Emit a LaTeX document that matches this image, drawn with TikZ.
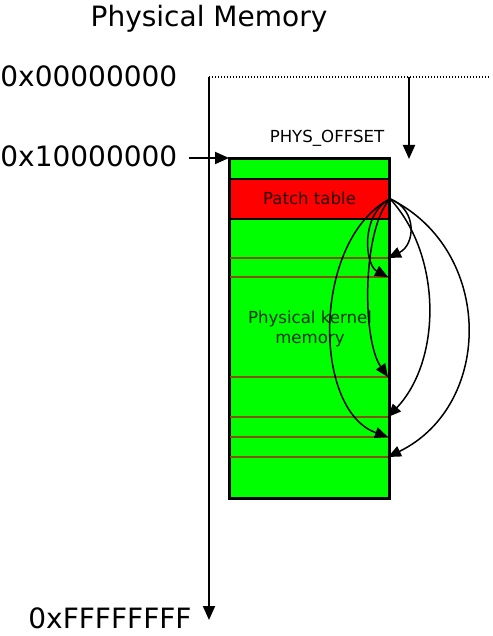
\documentclass[tikz,border=0pt]{standalone}
\usepackage{fontspec}
\setmainfont{DejaVu Sans}
\usetikzlibrary{arrows.meta}

\definecolor{memgreen}{RGB}{0,255,0}
\definecolor{slotbrown}{RGB}{125,85,0}

\tikzset{
  biglabel/.style={font=\fontsize{14}{16}\selectfont, inner sep=0pt, anchor=base},
  smalllabel/.style={font=\fontsize{8.3}{10.25}\selectfont, inner sep=0pt},
  axisline/.style={line width=1pt, -{Triangle[length=7pt,width=6pt]}},
  fixup/.style={line width=0.75pt, -{Triangle[length=6.5pt,width=5.5pt]}},
  membox/.style={draw, line width=1pt, inner sep=0pt, anchor=north west, minimum width=79.5pt},
}

\begin{document}
\begin{tikzpicture}[x=0.5pt, y=-0.5pt]
    \useasboundingbox (0,0) rectangle (492,636);

    % Address labels
    \node[biglabel] (title) at (209,27) {Physical Memory};
    \node[biglabel, anchor=base west] (lowaddr) at (0,87) {0x00000000};
    \node[biglabel, anchor=base west] (kaddr) at (0,167) {0x10000000};
    \node[biglabel, anchor=base west] (highaddr) at (28,628) {0xFFFFFFFF};

    % The address axis
    \coordinate (axistop) at (209,77);
    \coordinate (axisbottom) at (209,620);
    \coordinate (dotend) at (490,77);
    \coordinate (offtop) at (409,77);
    \coordinate (offtip) at (409,159);
    \coordinate (kin) at (189,158);
    \draw[axisline] (axistop) -- (axisbottom);
    \draw[line width=0.6pt, dash pattern=on 0.5pt off 1pt] (axistop) -- (dotend);
    \draw[axisline] (offtop) -- (offtip);
    \node[smalllabel, anchor=base] (physoffset) at (327,143) {PHYS\_OFFSET};

    % The memory block
    \node[membox, fill=memgreen, minimum height=169.5pt] (kmem) at (229,158) {};
    \foreach \y [count=\i] in {258,277,377,417,437,457} {
        \draw[slotbrown, line width=0.9pt] (229,\y) -- (388,\y);
        \coordinate (slot\i) at (388,\y);
    }
    \draw[line width=1pt] (kmem.north west) rectangle (kmem.south east);
    \draw[axisline] (kin) -- (kmem.north west);
    \node[membox, fill=red, minimum height=19.8pt, smalllabel, text=black!85!red] (ptable) at (229,178) {Patch table};
    \node[smalllabel, align=center, text=black!80!green] (kmemtext) at (310,329) {Physical kernel\\memory};

    % The patched places
    \draw[fixup] (ptable.east) .. controls (418,210) and (415,245) .. (slot1);
    \draw[fixup] (ptable.east) .. controls (360,215) and (365,265) .. (slot2);
    \draw[fixup] (ptable.east) .. controls (362,230) and (362,340) .. (slot3);
    \draw[fixup] (ptable.east) .. controls (442,255) and (442,360) .. (slot4);
    \draw[fixup] (ptable.east) .. controls (312,240) and (312,410) .. (slot5);
    \draw[fixup] (ptable.east) .. controls (494,250) and (494,405) .. (slot6);
\end{tikzpicture}
\end{document}
